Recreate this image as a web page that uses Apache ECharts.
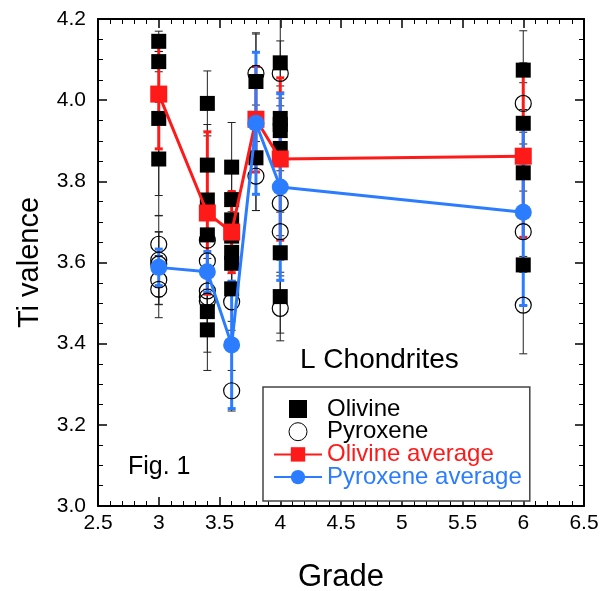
<!DOCTYPE html>
<html>
<head>
<meta charset="utf-8">
<script src="https://cdn.jsdelivr.net/npm/echarts@6/dist/echarts.min.js"></script>
<style>
  html, body { margin: 0; padding: 0; background: #fff; }
  #chart { width: 602px; height: 591px; }
</style>
</head>
<body>
<div id="chart"></div>
<script>
// individual measurements: grade, Ti valence, error
const olivineGrade = [3, 3, 3, 3, 3.4, 3.4, 3.4, 3.4, 3.4, 3.4, 3.6, 3.6, 3.6, 3.6, 3.6, 3.6, 3.6, 3.8, 3.8, 4, 4, 4, 4, 4, 4, 4, 6, 6, 6, 6]
const olivineValue = [4.145, 4.095, 3.955, 3.855, 3.992, 3.84, 3.754, 3.668, 3.479, 3.434, 3.835, 3.755, 3.705, 3.665, 3.625, 3.598, 3.535, 4.046, 3.858, 4.092, 3.955, 3.94, 3.925, 3.881, 3.624, 3.516, 4.074, 3.943, 3.821, 3.594]
const olivineErr = [0.025, 0.025, 0.19, 0.14, 0.08, 0.1, 0.09, 0.1, 0.1, 0.1, 0.11, 0.08, 0.07, 0.08, 0.07, 0.06, 0.08, 0.117, 0.13, 0.12, 0.08, 0.08, 0.08, 0.08, 0.1, 0.09, 0.097, 0.1, 0.1, 0.1]

const pyroxeneGrade = [3, 3, 3, 3, 3, 3.4, 3.4, 3.4, 3.4, 3.4, 3.6, 3.6, 3.8, 3.8, 4, 4, 4, 4, 6, 6, 6]
const pyroxeneValue = [3.645, 3.606, 3.596, 3.557, 3.534, 3.655, 3.604, 3.53, 3.515, 3.505, 3.503, 3.284, 4.066, 3.813, 4.066, 3.746, 3.676, 3.487, 3.992, 3.676, 3.495]
const pyroxeneErr = [0.03, 0.11, 0.08, 0.06, 0.07, 0.07, 0.08, 0.08, 0.07, 0.08, 0.07, 0.05, 0.1, 0.085, 0.08, 0.08, 0.1, 0.08, 0.1, 0.1, 0.12]

// averages per grade
const avgGrade = [3, 3.4, 3.6, 3.8, 4, 6]
const olivineAvg = [4.015, 3.722, 3.675, 3.953, 3.855, 3.862]
const olivineAvgErr = [0.135, 0.2, 0.1, 0.13, 0.2, 0.2]
const pyroxeneAvg = [3.588, 3.577, 3.397, 3.943, 3.786, 3.724]
const pyroxeneAvgErr = [0.045, 0.05, 0.157, 0.175, 0.23, 0.23]

const xTicks = ['2.5', '3', '3.5', '4', '4.5', '5', '5.5', '6', '6.5']
const yTicks = ['3.0', '3.2', '3.4', '3.6', '3.8', '4.0', '4.2']

const RED = '#ff1a1a'
const BLUE = '#2b7cff'
const FONT = '"Liberation Sans", Arial, Helvetica, sans-serif'

const rows = (xs, ys, es) => xs.map((x, i) => [x, ys[i], es[i]])
const pairs = (xs, ys) => xs.map((x, i) => [x, ys[i]])

const errorBars = (color, width, cap) => (params, api) => {
  const x = api.value(0)
  const y = api.value(1)
  const e = api.value(2)
  const top = api.coord([x, y + e])
  const bot = api.coord([x, y - e])
  const h = cap / 2
  const style = { stroke: color, lineWidth: width }
  return {
    type: 'group',
    children: [
      { type: 'line', shape: { x1: top[0], y1: top[1], x2: bot[0], y2: bot[1] }, style },
      { type: 'line', shape: { x1: top[0] - h, y1: top[1], x2: top[0] + h, y2: top[1] }, style },
      { type: 'line', shape: { x1: bot[0] - h, y1: bot[1], x2: bot[0] + h, y2: bot[1] }, style }
    ]
  }
}

const chart = echarts.init(document.getElementById('chart'))

const baseX = {
  type: 'value',
  min: 2.5,
  max: 6.5,
  interval: 0.5,
  axisLine: { show: true, onZero: false, lineStyle: { color: '#000', width: 2 } },
  axisTick: { show: true, inside: true, length: 9, lineStyle: { color: '#000', width: 1.5 } },
  minorTick: { show: true, splitNumber: 5, length: 5, lineStyle: { color: '#000', width: 1 } },
  splitLine: { show: false }
}
const baseY = {
  type: 'value',
  min: 3.0,
  max: 4.2,
  interval: 0.2,
  axisLine: { show: true, onZero: false, lineStyle: { color: '#000', width: 2 } },
  axisTick: { show: true, inside: true, length: 9, lineStyle: { color: '#000', width: 1.5 } },
  minorTick: { show: true, splitNumber: 4, length: 5, lineStyle: { color: '#000', width: 1 } },
  splitLine: { show: false }
}

const option = {
  backgroundColor: '#fff',
  animation: false,
  textStyle: { fontFamily: FONT },
  grid: { left: 98, right: 18, top: 19, bottom: 85, outerBoundsMode: 'none', containLabel: false },
  xAxis: [
    {
      ...baseX,
      position: 'bottom',
      name: 'Grade',
      nameLocation: 'middle',
      nameGap: 56,
      nameTextStyle: { fontSize: 31, color: '#000', fontFamily: FONT },
      axisLabel: {
        fontSize: 21, color: '#000', margin: 7, fontFamily: FONT,
        formatter: v => xTicks[Math.round((v - 2.5) / 0.5)]
      }
    },
    { ...baseX, position: 'top', axisLabel: { show: false } }
  ],
  yAxis: [
    {
      ...baseY,
      position: 'left',
      name: 'Ti valence',
      nameLocation: 'middle',
      nameGap: 54,
      nameTextStyle: { fontSize: 29, color: '#000', fontFamily: FONT },
      axisLabel: {
        fontSize: 21, color: '#000', margin: 12, fontFamily: FONT,
        formatter: v => yTicks[Math.round((v - 3) / 0.2)]
      }
    },
    { ...baseY, position: 'right', axisLabel: { show: false } }
  ],
  legend: {
    orient: 'vertical',
    left: 263,
    top: 387,
    padding: [10, 8, 12, 10],
    itemGap: -1.3,
    itemWidth: 48,
    itemHeight: 18,
    symbolKeepAspect: true,
    backgroundColor: '#fff',
    borderColor: '#444',
    borderWidth: 1.5,
    borderRadius: 0,
    textStyle: { fontSize: 24, lineHeight: 18, color: '#000', fontFamily: FONT },
    selectedMode: false,
    data: [
      { name: 'Olivine', icon: 'path://M0,0H10V10H0Z', itemStyle: { color: '#000' } },
      { name: 'Pyroxene', icon: 'circle', itemStyle: { color: 'rgba(0,0,0,0)', borderColor: '#000', borderWidth: 1 } },
      { name: 'Olivine average', textStyle: { color: RED } },
      { name: 'Pyroxene average', textStyle: { color: BLUE } }
    ]
  },
  graphic: [
    {
      type: 'text', left: 300, top: 346,
      style: { text: 'L Chondrites', font: '28px ' + FONT, fill: '#000' }
    },
    {
      type: 'text', left: 128, top: 455,
      style: { text: 'Fig. 1', font: '25px ' + FONT, fill: '#000' }
    }
  ],
  series: [
    {
      name: 'olivine err', type: 'custom', clip: true, z: 2,
      renderItem: errorBars('#222', 1, 8),
      data: rows(olivineGrade, olivineValue, olivineErr)
    },
    {
      name: 'pyroxene err', type: 'custom', clip: true, z: 2,
      renderItem: errorBars('#222', 1, 8),
      data: rows(pyroxeneGrade, pyroxeneValue, pyroxeneErr)
    },
    {
      name: 'olivine avg err', type: 'custom', clip: true, z: 3,
      renderItem: errorBars(RED, 3, 8),
      data: rows(avgGrade, olivineAvg, olivineAvgErr)
    },
    {
      name: 'pyroxene avg err', type: 'custom', clip: true, z: 3,
      renderItem: errorBars(BLUE, 3, 8),
      data: rows(avgGrade, pyroxeneAvg, pyroxeneAvgErr)
    },
    {
      name: 'Olivine', type: 'scatter', z: 4,
      symbol: 'rect', symbolSize: 15,
      itemStyle: { color: '#000', opacity: 1 },
      data: pairs(olivineGrade, olivineValue)
    },
    {
      name: 'Pyroxene', type: 'scatter', z: 5,
      symbol: 'circle', symbolSize: 16,
      itemStyle: { color: 'rgba(0,0,0,0)', borderColor: '#000', borderWidth: 1.2, opacity: 1 },
      data: pairs(pyroxeneGrade, pyroxeneValue)
    },
    {
      name: 'Olivine average', type: 'line', z: 6,
      symbol: 'rect', symbolSize: 17,
      lineStyle: { color: RED, width: 3 },
      itemStyle: { color: RED },
      data: pairs(avgGrade, olivineAvg)
    },
    {
      name: 'Pyroxene average', type: 'line', z: 7,
      symbol: 'circle', symbolSize: 17,
      lineStyle: { color: BLUE, width: 3 },
      itemStyle: { color: BLUE },
      data: pairs(avgGrade, pyroxeneAvg)
    }
  ]
}

chart.setOption(option)
</script>
</body>
</html>
